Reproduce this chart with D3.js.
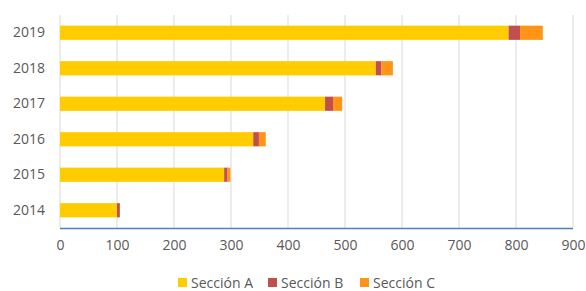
<!DOCTYPE html>
<html>
<head>
<meta charset="utf-8">
<script src="https://cdn.jsdelivr.net/npm/d3@7"></script>
<style>
  body { margin: 0; background: #fff; }
  text { font-family: "Open Sans", sans-serif; fill: #595959; }
</style>
</head>
<body>
<div id="chart"></div>
<script>
// years listed top first, as in the picture
var years = ["2019", "2018", "2017", "2016", "2015", "2014"];
var seccionA = [787, 554, 465, 339, 288, 100];
var seccionB = [20, 10, 14, 10, 6, 5];
var seccionC = [40, 20, 16, 12, 5, 0];
var seriesNames = ["Sección A", "Sección B", "Sección C"];
var xTicks = [0, 100, 200, 300, 400, 500, 600, 700, 800, 900];

var width = 586, height = 291;
var margin = { top: 15, right: 13, bottom: 63, left: 60 };

var colors = ["#FFCC00", "#C0504D", "#FF9416"];

var svg = d3.select("#chart").append("svg")
  .attr("width", width)
  .attr("height", height);

var x = d3.scaleLinear().domain([0, 900]).range([margin.left, width - margin.right]);
var y = d3.scaleBand().domain(years).range([margin.top, height - margin.bottom]).paddingInner(0.6).paddingOuter(0.3);

//vertical gridlines
svg.selectAll(".grid")
  .data(xTicks)
  .enter()
  .append("line")
  .attr("x1", function(d) { return x(d); })
  .attr("x2", function(d) { return x(d); })
  .attr("y1", margin.top)
  .attr("y2", height - margin.bottom)
  .attr("stroke", "#d9d9d9")
  .attr("stroke-width", 1);

//stack the three sections
var rows = years.map(function(yr, i) {
  return { year: yr, a: seccionA[i], b: seccionB[i], c: seccionC[i] };
});
var stack = d3.stack().keys(["a", "b", "c"]);
var layers = stack(rows);

svg.selectAll(".layer")
  .data(layers)
  .enter()
  .append("g")
  .attr("fill", function(d, i) { return colors[i]; })
  .selectAll("rect")
  .data(function(d) { return d; })
  .enter()
  .append("rect")
  .attr("x", function(d) { return x(d[0]); })
  .attr("width", function(d) { return x(d[1]) - x(d[0]); })
  .attr("y", function(d) { return y(d.data.year); })
  .attr("height", y.bandwidth());

//bottom axis line
svg.append("line")
  .attr("x1", x(0))
  .attr("x2", x(900))
  .attr("y1", height - margin.bottom + 0.5)
  .attr("y2", height - margin.bottom + 0.5)
  .attr("stroke", "#4F81BD")
  .attr("stroke-width", 1.5);

//x tick labels
var xAxis = d3.axisBottom(x).tickValues(xTicks).tickSize(0).tickPadding(12);
var gx = svg.append("g")
  .attr("transform", "translate(0," + (height - margin.bottom) + ")")
  .call(xAxis);
gx.select(".domain").remove();
gx.selectAll("text").style("font-size", "14px").attr("fill", "#595959");

//y labels
var yAxis = d3.axisLeft(y).tickSize(0).tickPadding(15);
var gy = svg.append("g")
  .attr("transform", "translate(" + margin.left + ",0)")
  .call(yAxis);
gy.select(".domain").remove();
gy.selectAll("text").style("font-size", "14px").attr("fill", "#595959");

//legend
var legendX = [178, 268, 360];
var legend = svg.selectAll(".legend")
  .data(seriesNames)
  .enter()
  .append("g")
  .attr("transform", function(d, i) { return "translate(" + legendX[i] + "," + 283 + ")"; });

legend.append("rect")
  .attr("x", 0)
  .attr("y", -5)
  .attr("width", 9)
  .attr("height", 9)
  .attr("fill", function(d, i) { return colors[i]; });

legend.append("text")
  .attr("x", 13)
  .attr("y", 0)
  .attr("dy", "0.35em")
  .style("font-size", "14px")
  .text(function(d) { return d; });
</script>
</body>
</html>
